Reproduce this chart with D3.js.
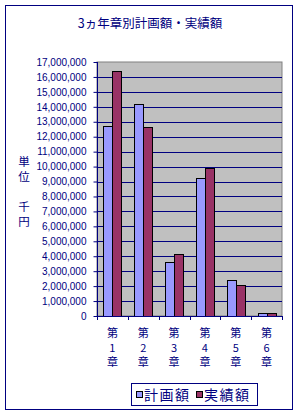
<!DOCTYPE html>
<html>
<head>
<meta charset="utf-8">
<script src="https://cdn.jsdelivr.net/npm/d3@7"></script>
<style>
  body { margin: 0; background: #fff; }
  text { fill: #000080; }
  .tick text { font-family: "Liberation Sans", Arial, sans-serif; font-size: 10px; }
  .jp { font-family: "Noto Sans CJK JP", sans-serif; }
</style>
</head>
<body>
<div id="chart"></div>
<script>
var chapters = ["第1章", "第2章", "第3章", "第4章", "第5章", "第6章"],
	seriesNames = ["計画額", "実績額"],
	planned = [12700000, 14170000, 3610000, 9220000, 2410000, 180000],
	actual = [16400000, 12650000, 4150000, 9880000, 2050000, 180000],
	colors = ["#9999ff", "#993366"],
	yTicks = d3.range(0, 17000001, 1000000);

var W = 299, H = 416,
	margin = { top: 62, right: 17, bottom: 100, left: 97 },
	width = W - margin.left - margin.right,
	height = H - margin.top - margin.bottom;

var svg = d3.select("#chart").append("svg")
	.attr("width", W)
	.attr("height", H);

// outer frame
svg.append("rect")
	.attr("x", 5.5).attr("y", 5.5)
	.attr("width", 287).attr("height", 404)
	.attr("fill", "#fff")
	.attr("stroke", "#000080");

svg.append("text")
	.attr("class", "jp")
	.attr("x", 150).attr("y", 28)
	.attr("text-anchor", "middle")
	.style("font-size", "12.5px")
	.text("3ヵ年章別計画額・実績額");

var g = svg.append("g")
	.attr("transform", "translate(" + margin.left + "," + margin.top + ")");

var x = d3.scaleBand().domain(chapters).range([0, width]);
var y = d3.scaleLinear().domain([0, 17000000]).range([height, 0]);

// plot background
g.append("rect")
	.attr("width", width).attr("height", height)
	.attr("fill", "#c0c0c0")
	.attr("stroke", "#808080");

// gridlines
g.selectAll(".grid")
	.data(yTicks.slice(1, -1))
	.enter().append("line")
	.attr("x1", 0).attr("x2", width)
	.attr("y1", function(d) { return Math.round(y(d)) + 0.5; })
	.attr("y2", function(d) { return Math.round(y(d)) + 0.5; })
	.attr("stroke", "#000080");

// bars
var barW = 9;
var data = [];
chapters.forEach(function(c, i) {
	data.push({ cat: c, s: 0, v: planned[i] });
	data.push({ cat: c, s: 1, v: actual[i] });
});

g.selectAll(".bar")
	.data(data)
	.enter().append("rect")
	.attr("x", function(d) { return Math.round(x(d.cat) + x.bandwidth() / 2 - barW + d.s * barW) + 0.5; })
	.attr("y", function(d) { return Math.round(y(d.v)) + 0.5; })
	.attr("width", barW)
	.attr("height", function(d) { return height - Math.round(y(d.v)); })
	.attr("fill", function(d) { return colors[d.s]; })
	.attr("stroke", "#000");

// y axis
var yAxis = g.append("g")
	.attr("transform", "translate(0.5,0)")
	.call(d3.axisLeft(y).tickValues(yTicks).tickSize(4).tickPadding(7).tickFormat(d3.format(",")));
yAxis.selectAll("line, path").attr("stroke", "#000080");
yAxis.select(".domain").attr("d", "M0," + height + "V0");

// x axis
var xAxis = g.append("g")
	.attr("transform", "translate(0," + (height + 0.5) + ")")
	.call(d3.axisBottom(x).tickSize(0).tickFormat(""));
xAxis.select(".domain").attr("stroke", "#000080").attr("d", "M0,0H" + width);
g.selectAll(".xtick")
	.data(d3.range(chapters.length + 1))
	.enter().append("line")
	.attr("x1", function(i) { return Math.round(i * x.bandwidth()) + 0.5; })
	.attr("x2", function(i) { return Math.round(i * x.bandwidth()) + 0.5; })
	.attr("y1", height).attr("y2", height + 4)
	.attr("stroke", "#000080");

// category labels, stacked vertically
chapters.forEach(function(c) {
	var t = g.append("text")
		.attr("class", "jp")
		.attr("text-anchor", "middle")
		.style("font-size", "11px");
	c.split("").forEach(function(ch, k) {
		t.append("tspan")
			.attr("x", x(c) + x.bandwidth() / 2)
			.attr("y", height + 21 + k * 14.5)
			.text(ch);
	});
});

// y axis title, one character per line
var yTitle = ["単", "位", "", "千", "円"];
yTitle.forEach(function(ch, k) {
	if (!ch) return;
	svg.append("text")
		.attr("class", "jp")
		.attr("x", 24)
		.attr("y", 166 + k * 15)
		.attr("text-anchor", "middle")
		.style("font-size", "11.5px")
		.text(ch);
});

// legend
var lg = svg.append("g").attr("transform", "translate(131,383)");
lg.append("rect")
	.attr("x", 0.5).attr("y", 0.5)
	.attr("width", 126).attr("height", 22)
	.attr("fill", "#fff")
	.attr("stroke", "#000080");
seriesNames.forEach(function(s, i) {
	var ox = 5 + i * 60;
	lg.append("rect")
		.attr("x", ox + 0.5).attr("y", 8.5)
		.attr("width", 6).attr("height", 6)
		.attr("fill", colors[i])
		.attr("stroke", "#000");
	lg.append("text")
		.attr("class", "jp")
		.attr("x", ox + 8).attr("y", 17)
		.style("font-size", "14px")
		.style("letter-spacing", "1.5px")
		.text(s);
});
</script>
</body>
</html>
